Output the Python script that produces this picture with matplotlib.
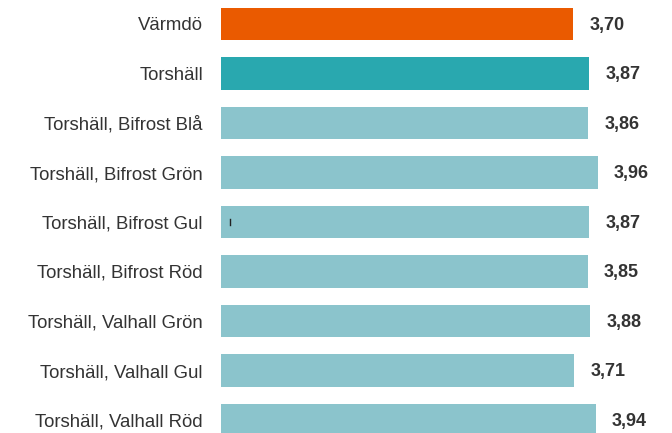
import matplotlib
matplotlib.use("Agg")
import matplotlib.pyplot as plt

plt.rcParams['font.family'] = ['Liberation Sans', 'DejaVu Sans']

# Data
categories = [
    "Värmdö",
    "Torshäll",
    "Torshäll, Bifrost Blå",
    "Torshäll, Bifrost Grön",
    "Torshäll, Bifrost Gul",
    "Torshäll, Bifrost Röd",
    "Torshäll, Valhall Grön",
    "Torshäll, Valhall Gul",
    "Torshäll, Valhall Röd",
]
values = [3.70, 3.87, 3.86, 3.96, 3.87, 3.85, 3.88, 3.71, 3.94]
value_labels = ["3,70", "3,87", "3,86", "3,96", "3,87", "3,85", "3,88", "3,71", "3,94"]
colors = ["#EA5A00", "#29A8AF"] + ["#8BC4CC"] * 7

W, H = 672, 433
fig = plt.figure(figsize=(W / 100, H / 100), dpi=100)

# axes placed so the bars start at x=221 px, ~95.2 px per unit
left_px, right_px = 221, 665
px_per_unit = 95.2
ax = fig.add_axes([left_px / W, 0, (right_px - left_px) / W, 1])

pos = list(range(len(categories)))
ax.barh(pos, values, height=0.65, color=colors, linewidth=0)

ax.set_xlim(0, (right_px - left_px) / px_per_unit)
# centers at 24 px + 49.5 px steps
ax.set_ylim((H - 24) / 49.5, -24 / 49.5)

ax.set_yticks(pos)
ax.set_yticklabels(categories, fontsize=13.4, color="#333333")
for t in ax.get_yticklabels():
    t.set_y(t.get_position()[1])
ax.tick_params(axis="y", length=0, pad=13)
ax.set_xticks([])
for s in ax.spines.values():
    s.set_visible(False)

for p, v, lab in zip(pos, values, value_labels):
    ax.annotate(lab, xy=(v, p), xytext=(11.5, -1), textcoords="offset points",
                ha="left", va="center", fontsize=13, fontweight="bold",
                color="#333333")

# small stray tick visible inside the "Bifrost Gul" bar in the original
ax.plot([0.095, 0.095], [4 - 0.06, 4 + 0.06], color="#222222", lw=1)

fig.savefig("out.png", dpi=100)
